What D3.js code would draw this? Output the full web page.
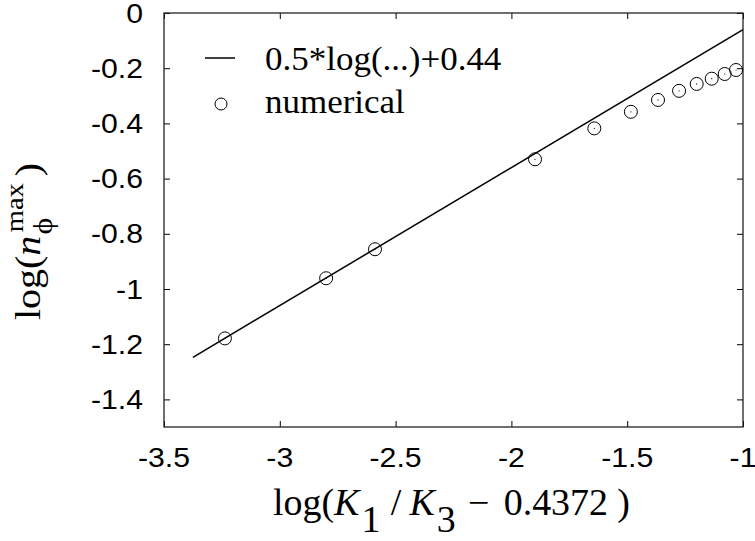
<!DOCTYPE html>
<html><head><meta charset="utf-8">
<script src="https://cdn.jsdelivr.net/npm/d3@7"></script>
<style>
html,body{margin:0;padding:0;background:#fff;}
svg{display:block;}
</style></head>
<body>
<svg id="chart" width="755" height="541"></svg>
<script>
// ---- data ----
const numX = [-3.237, -2.800, -2.589, -1.898, -1.642, -1.484, -1.367, -1.276, -1.200, -1.135, -1.079, -1.030];
const numY = [-1.179, -0.961, -0.856, -0.530, -0.418, -0.358, -0.315, -0.282, -0.257, -0.238, -0.221, -0.2065];
const fitX = [-3.375, -1.0];
const fitY = [-1.2475, -0.06];
const xTicks = [-3.5, -3, -2.5, -2, -1.5, -1];
const xTickLabels = ["-3.5", "-3", "-2.5", "-2", "-1.5", "-1"];
const yTicks = [0, -0.2, -0.4, -0.6, -0.8, -1, -1.2, -1.4];
const yTickLabels = ["0", "-0.2", "-0.4", "-0.6", "-0.8", "-1", "-1.2", "-1.4"];
const legendLabels = ["0.5*log(...)+0.44", "numerical"];

const svg = d3.select("#chart");
const L = 164, R = 743, T = 13, B = 427;
const x = d3.scaleLinear().domain([-3.5, -1]).range([L, R]);
const y = d3.scaleLinear().domain([-1.5, 0]).range([B, T]);

const sans = "'Liberation Sans', Arial, sans-serif";
const serif = "'Liberation Serif', 'Times New Roman', serif";

// ticks (inward, all four sides)
function styleAxis(g){ g.select(".domain").remove(); g.selectAll("line").attr("stroke","#000").attr("stroke-width",1); }
svg.append("g").attr("transform",`translate(0,${B})`).call(d3.axisBottom(x).tickValues(xTicks).tickSize(-6).tickFormat("")).call(styleAxis);
svg.append("g").attr("transform",`translate(0,${T})`).call(d3.axisTop(x).tickValues(xTicks).tickSize(-6).tickFormat("")).call(styleAxis);
svg.append("g").attr("transform",`translate(${L},0)`).call(d3.axisLeft(y).tickValues(yTicks).tickSize(-6).tickFormat("")).call(styleAxis);
svg.append("g").attr("transform",`translate(${R},0)`).call(d3.axisRight(y).tickValues(yTicks).tickSize(-6).tickFormat("")).call(styleAxis);

// frame
svg.append("rect").attr("x",L).attr("y",T).attr("width",R-L).attr("height",B-T)
  .attr("fill","none").attr("stroke","#222").attr("stroke-width",1.3);

// tick labels
const tfs = 27, tsx = 1.12;
svg.append("g").selectAll("text").data(xTicks).join("text")
  .attr("transform", (d)=>`translate(${x(d)},467) scale(${tsx},1)`)
  .attr("text-anchor","middle").attr("font-family",sans).attr("font-size",tfs)
  .text((d,i)=>xTickLabels[i]);
svg.append("g").selectAll("text").data(yTicks).join("text")
  .attr("transform", (d)=>`translate(143,${y(d)+9.5}) scale(${tsx},1)`)
  .attr("text-anchor","end").attr("font-family",sans).attr("font-size",tfs)
  .text((d,i)=>yTickLabels[i]);

// fit line
svg.append("line")
  .attr("x1",x(fitX[0])).attr("y1",y(fitY[0]))
  .attr("x2",x(fitX[1])).attr("y2",y(fitY[1]))
  .attr("stroke","#000").attr("stroke-width",1.5);

// numerical points
const pts = svg.append("g");
const idx = d3.range(numX.length);
pts.selectAll("circle.o").data(idx).join("circle").attr("class","o")
  .attr("cx",i=>x(numX[i])).attr("cy",i=>y(numY[i])).attr("r",6.5)
  .attr("fill","none").attr("stroke","#000").attr("stroke-width",1);
pts.selectAll("circle.d").data(idx).join("circle").attr("class","d")
  .attr("cx",i=>x(numX[i])).attr("cy",i=>y(numY[i])).attr("r",0.6)
  .attr("fill","#000");

// legend
const lg = svg.append("g");
lg.append("line").attr("x1",205).attr("x2",235).attr("y1",58).attr("y2",58).attr("stroke","#000").attr("stroke-width",1.5);
lg.append("circle").attr("cx",221).attr("cy",104).attr("r",6).attr("fill","none").attr("stroke","#000").attr("stroke-width",1);
const lfs = 33, lsx = 1.06;
lg.selectAll("text").data(legendLabels).join("text")
  .attr("transform",(d,i)=>`translate(265,${i===0?70:113}) scale(${lsx},1)`)
  .attr("font-family",serif).attr("font-size",lfs).text(d=>d);

// x axis label
function fit(sel, target){
  const w = sel.node().getBBox().width;
  return target / w;
}
const xl = svg.append("g");
const xt = xl.append("text").attr("font-family",serif).attr("font-size",37).attr("x",0).attr("y",0);
xt.append("tspan").text("log(");
xt.append("tspan").attr("font-style","italic").text("K");
xt.append("tspan").attr("dy",17).attr("dx",2).text("1");
xt.append("tspan").attr("dy",-17).attr("dx",10).text("/");
xt.append("tspan").attr("dx",8).attr("font-style","italic").text("K");
xt.append("tspan").attr("dy",17).attr("dx",2).text("3");
xt.append("tspan").attr("dy",-17).attr("dx",12).text("\u2212");
xt.append("tspan").attr("dx",14).text("0.4372");
xt.append("tspan").attr("dx",9).text(")");
const sxl = fit(xt, 357);
const bbx = xt.node().getBBox();
xl.attr("transform",`translate(${273 - bbx.x*sxl},515) scale(${sxl},1)`);

// y axis label (rotated)
const yl = svg.append("g").attr("transform","translate(40,320) rotate(-90)");
const inner = yl.append("g");
const t1 = inner.append("text").attr("font-family",serif).attr("font-size",35).attr("x",0).attr("y",0).text("log(");
const w1 = t1.node().getComputedTextLength();
const t2 = inner.append("text").attr("font-family",serif).attr("font-size",35).attr("font-style","italic").attr("x",w1).attr("y",0).text("n");
const w2 = t2.node().getComputedTextLength();
const t3 = inner.append("text").attr("font-family",serif).attr("font-size",28).attr("x",w1+w2+1).attr("y",12).text("\u03d5");
const t4 = inner.append("text").attr("font-family",serif).attr("font-size",25).attr("x",w1+w2+3).attr("y",-17).text("max");
const w4 = t4.node().getComputedTextLength();
const t5 = inner.append("text").attr("font-family",serif).attr("font-size",35).attr("x",w1+w2+3+w4+6).attr("y",0).text(")");
const ib = inner.node().getBBox();
const syl = 157 / ib.width;
inner.attr("transform",`scale(${syl},1) translate(${-ib.x},0)`);
</script>
</body></html>
